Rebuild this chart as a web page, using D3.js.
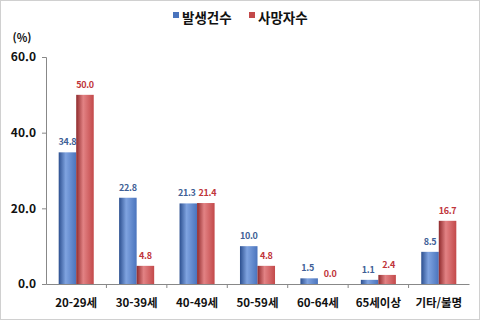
<!DOCTYPE html>
<html lang="ko">
<head>
<meta charset="UTF-8">
<title>연령대별 발생건수 / 사망자수</title>
<script src="https://cdn.jsdelivr.net/npm/d3@7"></script>
<style>
    body { margin: 0; background: #fff; }
    svg text { font-family: "Noto Sans CJK KR", "Noto Sans", sans-serif; }
</style>
</head>
<body>
<div id="chart"></div>
<script>
    const categories = ["20-29세", "30-39세", "40-49세", "50-59세", "60-64세", "65세이상", "기타/불명"];
    const seriesNames = ["발생건수", "사망자수"];
    const occurrences = [34.8, 22.8, 21.3, 10.0, 1.5, 1.1, 8.5];
    const deaths = [50.0, 4.8, 21.4, 4.8, 0.0, 2.4, 16.7];
    const yTicks = [0, 20, 40, 60];

    const W = 480, H = 320;
    const margin = { left: 46, right: 11, top: 57, bottom: 36 };

    const svg = d3.select("#chart").append("svg")
        .attr("width", W).attr("height", H);

    // outer frame
    svg.append("rect")
        .attr("x", 0.5).attr("y", 0.5)
        .attr("width", W - 1).attr("height", H - 1)
        .attr("fill", "#fff").attr("stroke", "#d0d0d0");

    const colors = ["#4a74bd", "#c3494a"];
    const labelColors = ["#3f5f96", "#c0353a"];
    const darks = ["#2c4f8f", "#8f2a2c"];
    const lights = ["#7fa3e0", "#e28284"];

    // cylinder-ish shading like the original
    const defs = svg.append("defs");
    colors.forEach((c, i) => {
        const g = defs.append("linearGradient")
            .attr("id", "grad" + i)
            .attr("x1", "0%").attr("x2", "100%");
        g.append("stop").attr("offset", "0%").attr("stop-color", darks[i]);
        g.append("stop").attr("offset", "40%").attr("stop-color", lights[i]);
        g.append("stop").attr("offset", "100%").attr("stop-color", c);
    });

    const x = d3.scaleBand()
        .domain(categories)
        .range([margin.left, W - margin.right])
        .paddingInner(0).paddingOuter(0);

    const x1 = d3.scaleBand()
        .domain(seriesNames)
        .range([x.bandwidth() * 0.21, x.bandwidth() * 0.79]);

    const y = d3.scaleLinear()
        .domain([0, 60])
        .range([H - margin.bottom, margin.top]);

    // y axis
    const yAxis = svg.append("g")
        .attr("transform", `translate(${margin.left},0)`)
        .call(d3.axisLeft(y).tickValues(yTicks).tickFormat(d3.format(".1f")).tickSize(4).tickPadding(6));
    yAxis.select(".domain").attr("stroke", "#888");
    yAxis.selectAll(".tick line").attr("stroke", "#888");
    yAxis.selectAll("text")
        .attr("font-size", 12).attr("font-weight", "bold").attr("fill", "#111");

    // x axis
    const xAxis = svg.append("g")
        .attr("transform", `translate(0,${y(0)})`)
        .call(d3.axisBottom(x).tickSize(0).tickPadding(15));
    xAxis.select(".domain").attr("stroke", "#888");
    xAxis.selectAll("text")
        .attr("font-size", 11.5).attr("font-weight", "bold").attr("fill", "#111");
    // separators between categories
    xAxis.selectAll(".sep")
        .data(categories.slice(1))
        .enter().append("line")
        .attr("x1", d => x(d)).attr("x2", d => x(d))
        .attr("y1", 0).attr("y2", 4)
        .attr("stroke", "#888");

    // (%) label
    svg.append("text")
        .attr("x", 22).attr("y", 42)
        .attr("text-anchor", "middle")
        .attr("font-size", 11).attr("font-weight", "bold").attr("fill", "#111")
        .text("(%)");

    const series = [occurrences, deaths];
    series.forEach((vals, si) => {
        const g = svg.append("g");
        g.selectAll("rect")
            .data(vals)
            .enter().append("rect")
            .attr("x", (d, i) => x(categories[i]) + x1(seriesNames[si]))
            .attr("width", x1.bandwidth())
            .attr("y", d => y(d))
            .attr("height", d => y(0) - y(d))
            .attr("fill", `url(#grad${si})`);
        g.selectAll("text")
            .data(vals)
            .enter().append("text")
            .attr("x", (d, i) => x(categories[i]) + x1(seriesNames[si]) + x1.bandwidth() / 2
                + (d === 0 ? 2 : 0)
                // keep side-by-side labels of near-equal bars apart
                + (Math.abs(occurrences[i] - deaths[i]) < 3 ? (si === 0 ? -1.5 : 1.5) : 0))
            .attr("y", d => y(d) - 7)
            .attr("text-anchor", "middle")
            .attr("font-size", 9).attr("font-weight", "bold")
            .attr("letter-spacing", -0.3)
            .attr("fill", labelColors[si])
            .text(d => d.toFixed(1));
    });

    // legend
    const legendItems = [
        { name: seriesNames[0], x: 173 },
        { name: seriesNames[1], x: 249 }
    ];
    const lg = svg.append("g");
    legendItems.forEach((it, i) => {
        lg.append("rect")
            .attr("x", it.x).attr("y", 12)
            .attr("width", 6).attr("height", 6)
            .attr("fill", colors[i]);
        lg.append("text")
            .attr("x", it.x + 9).attr("y", 23)
            .attr("font-size", 13.5).attr("font-weight", "bold").attr("fill", "#111")
            .text(it.name);
    });
</script>
</body>
</html>
